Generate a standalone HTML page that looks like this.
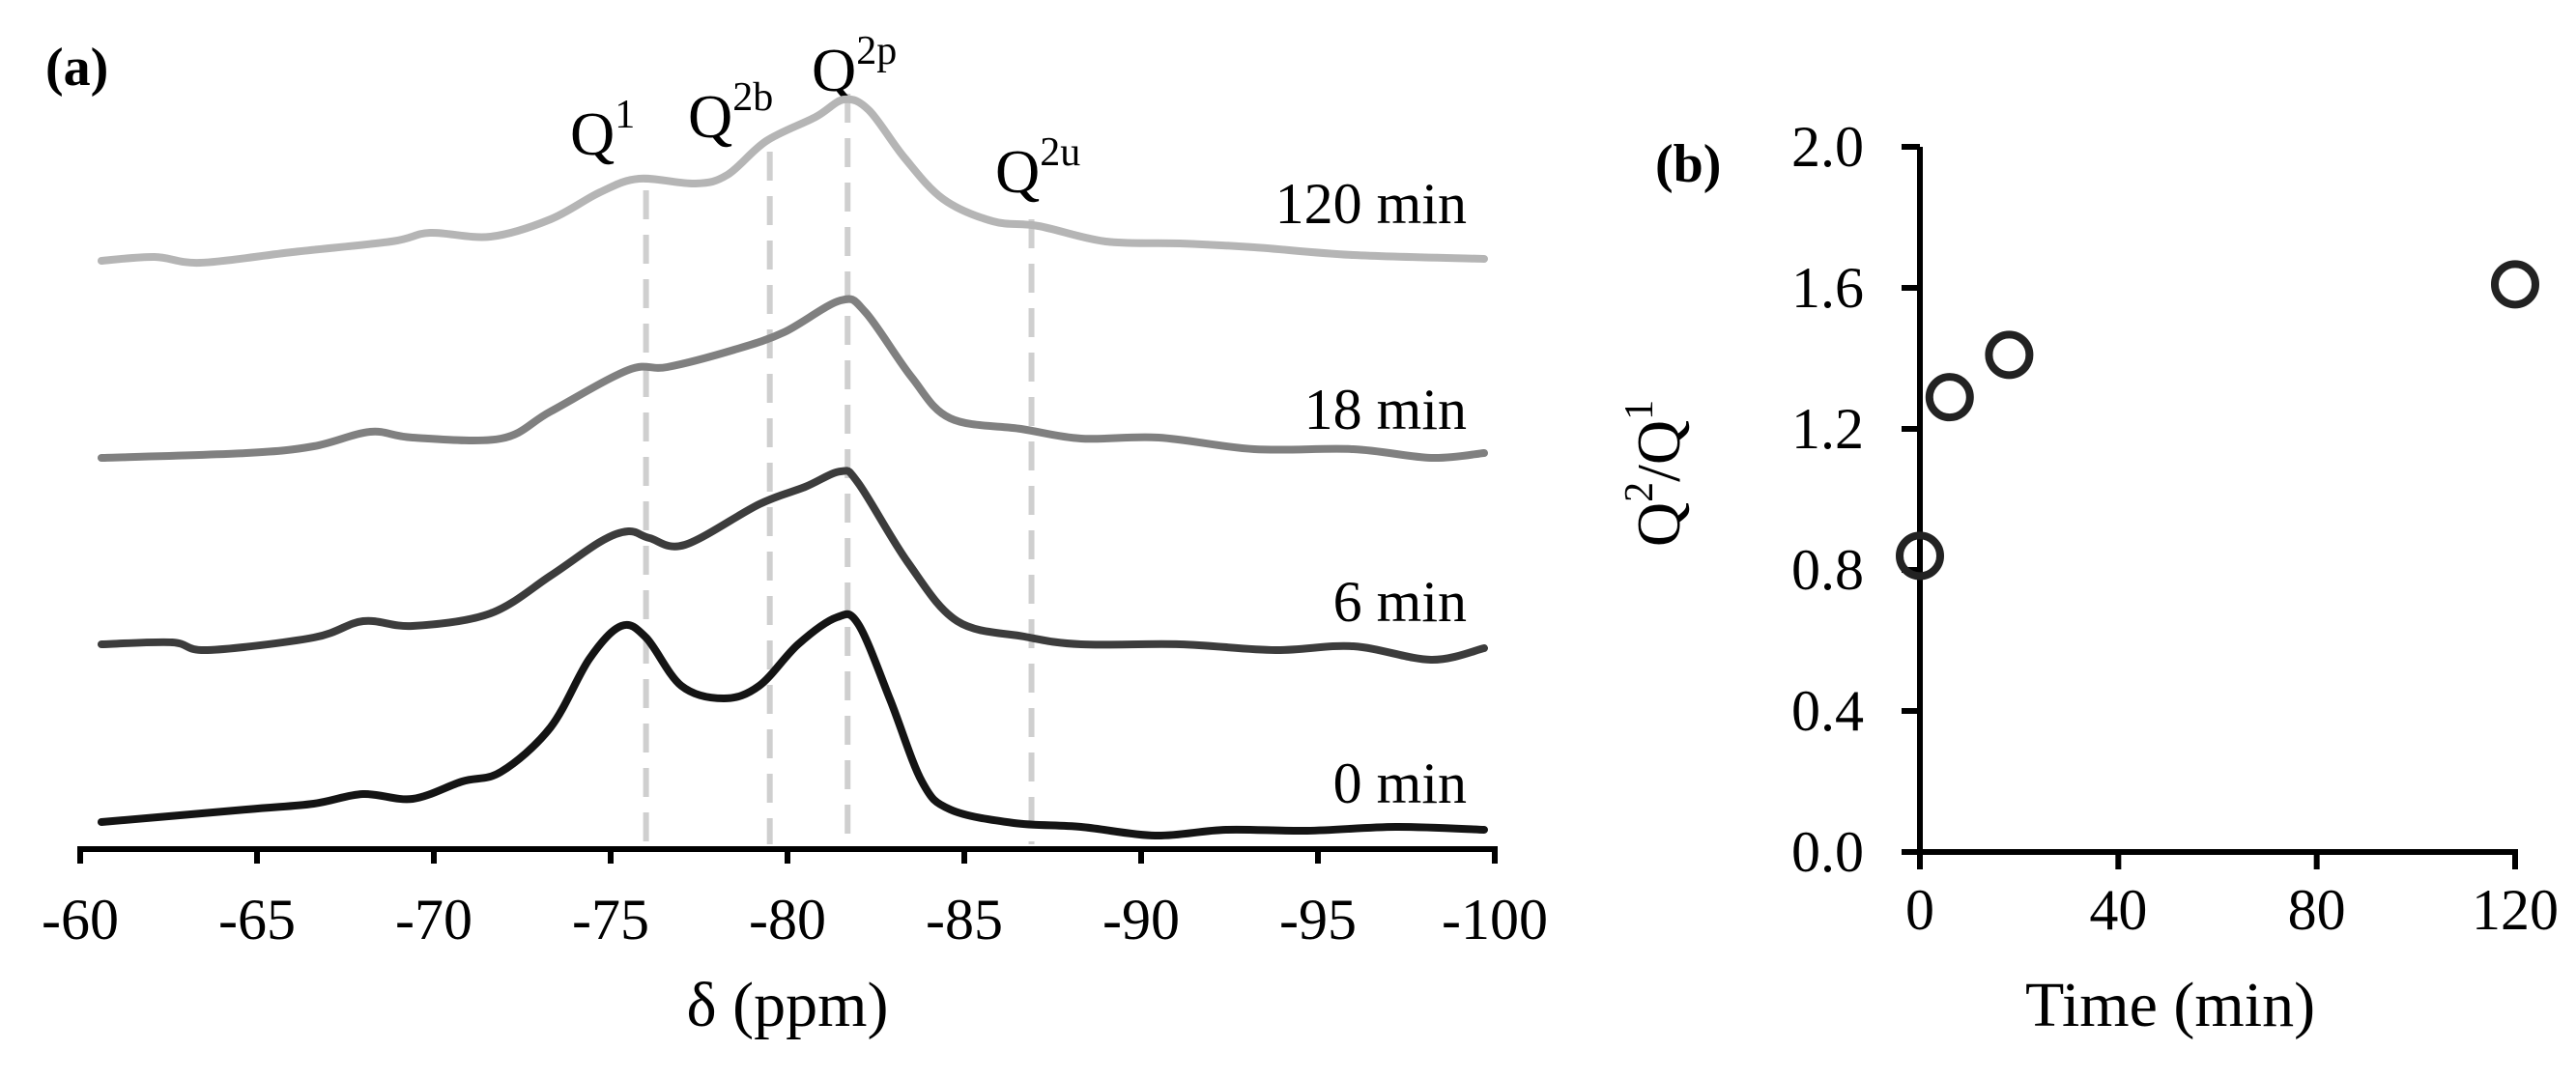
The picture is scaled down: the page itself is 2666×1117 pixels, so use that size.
<!DOCTYPE html>
<html><head><meta charset="utf-8"><style>
html,body{margin:0;padding:0;background:#fff;}
svg{display:block;font-family:"Liberation Serif",serif;}
</style></head><body>
<svg id="fig" width="2666" height="1117" viewBox="0 0 2666 1117" xmlns="http://www.w3.org/2000/svg">
<g id="pa"></g>
<g id="pb"></g>
</svg>
<script>
// ---- Panel (a) data ----
const xTicksA = [-60,-65,-70,-75,-80,-85,-90,-95,-100];
const seriesLabels = ["0 min","6 min","18 min","120 min"];
const ppm0 = [-60.6,-64.7,-66.6,-68.0,-69.4,-70.8,-71.9,-73.3,-74.4,-75.3,-76.0,-77.0,-78.2,-79.2,-80.3,-81.4,-82.0,-82.9,-83.8,-84.6,-86.4,-88.3,-90.4,-92.4,-94.7,-97.2,-99.7];
const int0 = [2.6,3.9,4.5,5.5,5.0,6.8,7.8,12.4,19.5,22.9,21.7,16.7,15.4,16.7,21.0,23.8,23.1,15.3,6.8,3.9,2.5,2.1,1.2,1.8,1.7,2.1,1.8];
const ppm6 = [-60.6,-62.6,-63.6,-66.6,-68.0,-69.4,-71.6,-73.3,-74.7,-75.5,-76.1,-77.1,-79.2,-80.5,-81.5,-82.0,-83.4,-84.8,-86.7,-88.3,-91.1,-93.8,-96.0,-98.2,-99.7];
const int6 = [21.0,21.2,20.4,21.7,23.4,22.9,24.2,28.1,31.6,32.7,32.0,31.3,35.5,37.3,38.9,37.7,29.5,23.4,21.8,21.0,21.0,20.4,20.8,19.4,20.6];
const ppm18 = [-60.6,-64.7,-66.6,-68.2,-69.4,-71.9,-73.3,-75.5,-76.6,-78.5,-79.9,-81.5,-82.2,-83.5,-84.6,-86.6,-88.3,-90.5,-93.2,-96.0,-98.2,-99.7];
const int18 = [40.3,40.8,41.5,43.0,42.4,42.3,45.1,49.4,49.7,51.5,53.3,56.6,55.4,48.7,44.4,43.3,42.3,42.4,41.2,41.2,40.3,40.8];
const ppm120 = [-60.6,-62.1,-63.4,-66.0,-68.8,-69.9,-71.6,-73.3,-74.7,-75.8,-77.4,-78.3,-79.4,-80.8,-81.6,-82.3,-83.3,-84.4,-85.8,-87.1,-89.0,-91.1,-93.2,-96.0,-99.7];
const int120 = [60.7,61.1,60.5,61.6,62.7,63.6,63.2,65.0,67.8,69.2,68.7,69.6,73.1,75.6,77.4,76.3,71.4,67.1,64.8,64.3,62.7,62.5,62.1,61.3,60.9];
const peakNames = ["1","2b","2p","2u"];
const peakPpm = [-76.0,-79.5,-81.7,-86.9];
const peakTop = [68,72,78,65];
// ---- Panel (b) data ----
const timeVals = [0,6,18,120];
const ratioVals = [0.84,1.29,1.41,1.61];
const xTicksB = [0,40,80,120];
const yTicksB = [0.0,0.4,0.8,1.2,1.6,2.0];

const NS="http://www.w3.org/2000/svg";
function mk(tag,attrs,parent,text){const e=document.createElementNS(NS,tag);for(const k in attrs)e.setAttribute(k,attrs[k]);if(text!==undefined)e.textContent=text;parent.appendChild(e);return e;}

const pa=document.getElementById('pa');
const xA=p=>83+(p-(-60))/(-100-(-60))*(1547-83);
const yA=v=>877-v*10;
let ax=mk('line',{x1:80,y1:879,x2:1550,y2:879,stroke:'#000','stroke-width':6},pa);


xTicksA.forEach(t=>{
  const tk=mk('line',{x1:xA(t),y1:877,x2:xA(t),y2:894,stroke:'#000','stroke-width':6},pa);
  
  
  const lb=mk('text',{x:xA(t),y:972,'font-size':60,'text-anchor':'middle'},pa,String(t));
  
  
});
let xt=mk('text',{x:815,y:1062,'font-size':66,'text-anchor':'middle'},pa,'δ (ppm)');


let la=mk('text',{x:47,y:88,'font-size':56,'font-weight':'bold'},pa,'(a)');


peakPpm.forEach((p,i)=>{
  const d=mk('line',{x1:xA(p),y1:yA(peakTop[i]),x2:xA(p),y2:874,stroke:'#cfcfcf','stroke-width':6,'stroke-dasharray':'30,16'},pa);
  
  
});
const qPos=[[590,160],[712,142],[840,94],[1030,199]];
peakNames.forEach((n,i)=>{
  const t=mk('text',{x:qPos[i][0],y:qPos[i][1],'font-size':64},pa);
  
  
  t.appendChild(document.createTextNode('Q'));
  mk('tspan',{'font-size':42,dy:-28},t,n);
});
function smoothPath(pts){
  let d='M'+pts[0][0]+','+pts[0][1];
  for(let i=0;i<pts.length-1;i++){
    const p0=pts[Math.max(0,i-1)],p1=pts[i],p2=pts[i+1],p3=pts[Math.min(pts.length-1,i+2)];
    const c1=[p1[0]+(p2[0]-p0[0])/6,p1[1]+(p2[1]-p0[1])/6];
    const c2=[p2[0]-(p3[0]-p1[0])/6,p2[1]-(p3[1]-p1[1])/6];
    d+=' C'+c1[0].toFixed(1)+','+c1[1].toFixed(1)+' '+c2[0].toFixed(1)+','+c2[1].toFixed(1)+' '+p2[0].toFixed(1)+','+p2[1].toFixed(1);
  }
  return d;
}
const allPpm=[ppm0,ppm6,ppm18,ppm120], allInt=[int0,int6,int18,int120];
const colors=['#141414','#3c3c3c','#808080','#b5b5b5'];
const labelBase=[831,643,444,231];
allPpm.forEach((pp,s)=>{
  const pts=pp.map((p,i)=>[xA(p),yA(allInt[s][i])]);
  const path=mk('path',{d:smoothPath(pts),fill:'none',stroke:colors[s],'stroke-width':8,'stroke-linejoin':'round','stroke-linecap':'round'},pa);
  
  
  const lb=mk('text',{x:1518,y:labelBase[s],'font-size':60,'text-anchor':'end'},pa,seriesLabels[s]);
  
  
});

// ---- Panel (b) ----
const pb=document.getElementById('pb');
const xB=t=>1987+t/120*(2603-1987);
const yB=v=>882-v/2.0*(882-152);
let yax=mk('line',{x1:1987,y1:152,x2:1987,y2:885,stroke:'#000','stroke-width':6},pb);


let xax=mk('line',{x1:1968,y1:882,x2:2606,y2:882,stroke:'#000','stroke-width':6},pb);


yTicksB.forEach(v=>{
  const tk=mk('line',{x1:1968,y1:yB(v),x2:1987,y2:yB(v),stroke:'#000','stroke-width':6},pb);
  
  
  const lb=mk('text',{x:1929,y:yB(v)+20,'font-size':60,'text-anchor':'end'},pb,v.toFixed(1));
  
  
});
xTicksB.forEach(t=>{
  const tk=mk('line',{x1:xB(t),y1:882,x2:xB(t),y2:900,stroke:'#000','stroke-width':6},pb);
  
  
  const lb=mk('text',{x:xB(t),y:962,'font-size':60,'text-anchor':'middle'},pb,String(t));
  
  
});
timeVals.forEach((t,i)=>{
  const c=mk('circle',{cx:xB(t),cy:yB(ratioVals[i]),r:21,fill:'none',stroke:'#222','stroke-width':8},pb);
  
  
});
let bt=mk('text',{x:2246,y:1062,'font-size':66,'text-anchor':'middle'},pb,'Time (min)');


let yt=mk('text',{x:0,y:0,'font-size':64,'text-anchor':'middle',transform:'translate(1738,490) rotate(-90)'},pb);


yt.appendChild(document.createTextNode('Q'));
mk('tspan',{'font-size':42,dy:-28},yt,'2');
mk('tspan',{dy:28},yt,'/Q');
mk('tspan',{'font-size':42,dy:-28},yt,'1');
let lb2=mk('text',{x:1713,y:188,'font-size':56,'font-weight':'bold'},pb,'(b)');


</script>
</body></html>
